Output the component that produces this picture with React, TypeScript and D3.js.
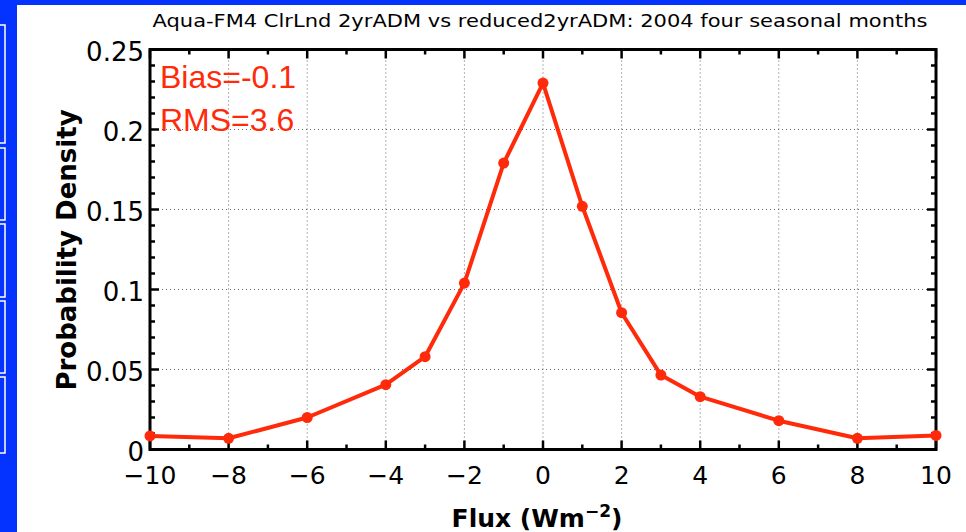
import { useEffect, useRef } from 'react'
import * as d3 from 'd3'

const fluxBins = [-10, -8, -6, -4, -3, -2, -1, 0, 1, 2, 3, 4, 6, 8, 10]
const density = [0.0085, 0.007, 0.020, 0.0405, 0.058, 0.104, 0.179, 0.229, 0.152, 0.0855, 0.0465, 0.033, 0.018, 0.007, 0.0088]
const xTicks = [-10, -8, -6, -4, -2, 0, 2, 4, 6, 8, 10]
const yTicks = [0, 0.05, 0.1, 0.15, 0.2, 0.25]
const yTickLabels = ['0', '0.05', '0.1', '0.15', '0.2', '0.25']
const statLines = ['Bias=-0.1', 'RMS=3.6']
const sideTabs = [[25, 143], [148, 220], [224, 297], [301, 373], [377, 453]]

export default function App() {
    const svgRef = useRef<SVGSVGElement>(null)

    useEffect(() => {
        if (!svgRef.current) return
        const svg = d3.select(svgRef.current)
        svg.selectAll('*').remove()

        const W = 966, H = 532
        const red = '#ff2a0a'
        const font = 'DejaVu Sans, sans-serif'

        // blue frame around the page
        svg.append('rect').attr('width', W).attr('height', H).attr('fill', '#0433ff')
        svg.append('rect').attr('x', 17).attr('y', 5).attr('width', W - 17).attr('height', H - 5).attr('fill', 'white')
        sideTabs.forEach(([a, b]) => {
            svg.append('rect').attr('x', -5).attr('y', a).attr('width', 10).attr('height', b - a)
                .attr('fill', 'none').attr('stroke', 'white').attr('stroke-width', 1.5)
        })

        const x = d3.scaleLinear().domain([-10, 10]).range([150, 936])
        const y = d3.scaleLinear().domain([0, 0.25]).range([449.5, 49.5])

        const g = svg.append('g')

        // dotted grid at the inner major ticks
        xTicks.slice(1, -1).forEach(t => {
            g.append('line').attr('x1', x(t)).attr('x2', x(t)).attr('y1', y(0)).attr('y2', y(0.25))
                .attr('stroke', '#666').attr('stroke-width', 1).attr('stroke-dasharray', '1,3')
        })
        yTicks.slice(1, -1).forEach(t => {
            g.append('line').attr('x1', x(-10)).attr('x2', x(10)).attr('y1', y(t)).attr('y2', y(t))
                .attr('stroke', '#666').attr('stroke-width', 1).attr('stroke-dasharray', '1,3')
        })

        // ticks on all four sides
        const minorX = d3.range(-10, 10.01, 1)
        const minorY = d3.range(0, 0.2501, 0.01)
        minorX.forEach(t => {
            const len = Math.round(t) % 2 === 0 ? 9 : 5
            g.append('line').attr('x1', x(t)).attr('x2', x(t)).attr('y1', y(0)).attr('y2', y(0) - len)
                .attr('stroke', 'black').attr('stroke-width', 2.5)
            g.append('line').attr('x1', x(t)).attr('x2', x(t)).attr('y1', y(0.25)).attr('y2', y(0.25) + len)
                .attr('stroke', 'black').attr('stroke-width', 2.5)
        })
        minorY.forEach((t, i) => {
            const len = i % 5 === 0 ? 9 : 5
            g.append('line').attr('x1', x(-10)).attr('x2', x(-10) + len).attr('y1', y(t)).attr('y2', y(t))
                .attr('stroke', 'black').attr('stroke-width', 2.5)
            g.append('line').attr('x1', x(10)).attr('x2', x(10) - len).attr('y1', y(t)).attr('y2', y(t))
                .attr('stroke', 'black').attr('stroke-width', 2.5)
        })

        g.append('rect').attr('x', x(-10)).attr('y', y(0.25)).attr('width', x(10) - x(-10)).attr('height', y(0) - y(0.25))
            .attr('fill', 'none').attr('stroke', 'black').attr('stroke-width', 3)

        // tick labels
        g.selectAll('.xl').data(xTicks).enter().append('text')
            .attr('x', d => x(d)).attr('y', y(0) + 34)
            .attr('text-anchor', 'middle').style('font-family', font).style('font-size', '25px')
            .text(d => (d < 0 ? '\u2212' + Math.abs(d) : String(d)))
        g.selectAll('.yl').data(yTicks).enter().append('text')
            .attr('x', x(-10) - 6).attr('y', d => y(d) + 11)
            .attr('text-anchor', 'end').style('font-family', font).style('font-size', '26px')
            .text((d, i) => yTickLabels[i])

        // data line
        const line = d3.line<number>().x((d, i) => x(fluxBins[i])).y(d => y(d))
        g.append('path').datum(density).attr('d', line).attr('fill', 'none')
            .attr('stroke', red).attr('stroke-width', 4).attr('stroke-linejoin', 'round')
        g.selectAll('.pt').data(density).enter().append('circle')
            .attr('cx', (d, i) => x(fluxBins[i])).attr('cy', d => y(d)).attr('r', 5.5).attr('fill', red)

        // stats
        statLines.forEach((s, i) => {
            g.append('text').attr('x', 160).attr('y', 88 + i * 43)
                .style('font-family', 'Liberation Sans, Arial, sans-serif').style('font-size', '32px')
                .attr('fill', red).text(s)
        })

        // title and axis labels
        svg.append('text').attr('x', 540).attr('y', 27).attr('text-anchor', 'middle')
            .style('font-family', font).style('font-size', '17px')
            .attr('textLength', 775).attr('lengthAdjust', 'spacingAndGlyphs')
            .text('Aqua-FM4 ClrLnd 2yrADM vs reduced2yrADM: 2004 four seasonal months')
        const xl = svg.append('text').attr('x', 537).attr('y', 527).attr('text-anchor', 'middle')
            .style('font-family', font).style('font-size', '25px').style('font-weight', 'bold')
        xl.append('tspan').text('Flux (Wm')
        xl.append('tspan').attr('dy', -10).style('font-size', '17px').text('\u22122')
        xl.append('tspan').attr('dy', 10).text(')')
        svg.append('text').attr('transform', 'translate(76,250) rotate(-90)').attr('text-anchor', 'middle')
            .style('font-family', font).style('font-size', '26px').style('font-weight', 'bold')
            .text('Probability Density')
    }, [])

    return <svg ref={svgRef} width={966} height={532} style={{ position: 'absolute', left: 0, top: 0 }}></svg>
}
